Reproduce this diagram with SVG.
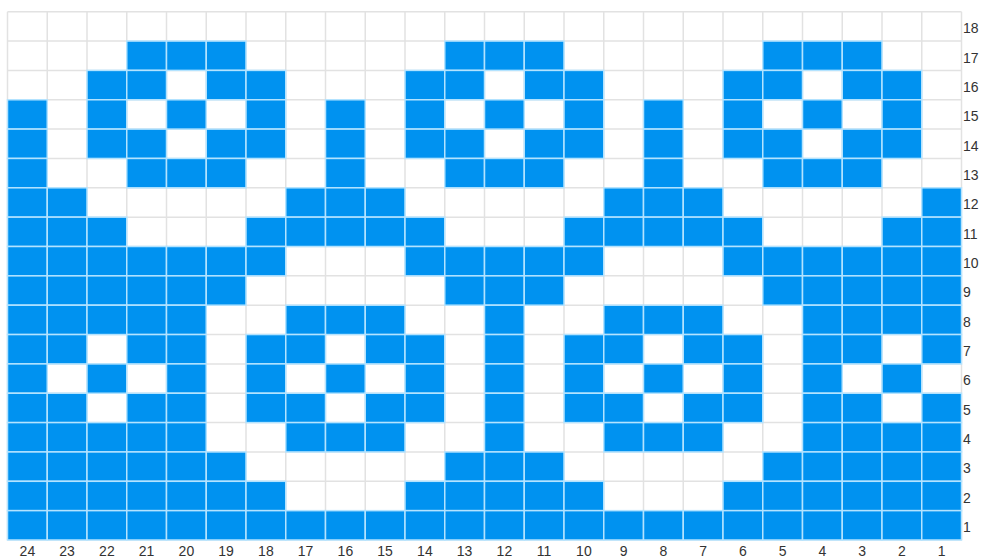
<svg xmlns="http://www.w3.org/2000/svg" xmlns:xlink="http://www.w3.org/1999/xlink" width="985" height="557" viewBox="0 0 985 557">
<style>
.grid{stroke:#e2e2e2;stroke-width:1.5;fill:none}
.b{fill:#0092f0;stroke:#b3e3ff;stroke-width:1.5}
.lbl{font-family:"Liberation Sans",Arial,sans-serif;font-size:14px;fill:#333}
.col{text-anchor:middle}
</style>
<defs>
<rect id="c" class="b" width="39.75" height="29.35"/>
<g id="ev"><use href="#c" x="7.5"/><use href="#c" x="87"/><use href="#c" x="166.5"/><use href="#c" x="246"/><use href="#c" x="325.5"/><use href="#c" x="405"/><use href="#c" x="484.5"/><use href="#c" x="564"/><use href="#c" x="643.5"/><use href="#c" x="723"/><use href="#c" x="802.5"/><use href="#c" x="882"/></g>
<g id="rA"><use href="#c" x="7.5"/><use href="#c" x="47.25"/><use href="#c" x="87"/><use href="#c" x="126.75"/><use href="#c" x="166.5"/><use href="#c" x="206.25"/><use href="#c" x="246"/><use href="#c" x="405"/><use href="#c" x="444.75"/><use href="#c" x="484.5"/><use href="#c" x="524.25"/><use href="#c" x="564"/><use href="#c" x="723"/><use href="#c" x="762.75"/><use href="#c" x="802.5"/><use href="#c" x="842.25"/><use href="#c" x="882"/><use href="#c" x="921.75"/></g>
<g id="rB"><use href="#c" x="7.5"/><use href="#c" x="47.25"/><use href="#c" x="87"/><use href="#c" x="126.75"/><use href="#c" x="166.5"/><use href="#c" x="206.25"/><use href="#c" x="444.75"/><use href="#c" x="484.5"/><use href="#c" x="524.25"/><use href="#c" x="762.75"/><use href="#c" x="802.5"/><use href="#c" x="842.25"/><use href="#c" x="882"/><use href="#c" x="921.75"/></g>
<g id="rC"><use href="#c" x="7.5"/><use href="#c" x="47.25"/><use href="#c" x="87"/><use href="#c" x="126.75"/><use href="#c" x="166.5"/><use href="#c" x="285.75"/><use href="#c" x="325.5"/><use href="#c" x="365.25"/><use href="#c" x="484.5"/><use href="#c" x="603.75"/><use href="#c" x="643.5"/><use href="#c" x="683.25"/><use href="#c" x="802.5"/><use href="#c" x="842.25"/><use href="#c" x="882"/><use href="#c" x="921.75"/></g>
<g id="rD"><use href="#c" x="7.5"/><use href="#c" x="47.25"/><use href="#c" x="126.75"/><use href="#c" x="166.5"/><use href="#c" x="246"/><use href="#c" x="285.75"/><use href="#c" x="365.25"/><use href="#c" x="405"/><use href="#c" x="484.5"/><use href="#c" x="564"/><use href="#c" x="603.75"/><use href="#c" x="683.25"/><use href="#c" x="723"/><use href="#c" x="802.5"/><use href="#c" x="842.25"/><use href="#c" x="921.75"/></g>
</defs>
<rect width="985" height="557" fill="#fff"/>
<path class="grid" d="M7.5 11.7V540M47.25 11.7V540M87 11.7V540M126.75 11.7V540M166.5 11.7V540M206.25 11.7V540M246 11.7V540M285.75 11.7V540M325.5 11.7V540M365.25 11.7V540M405 11.7V540M444.75 11.7V540M484.5 11.7V540M524.25 11.7V540M564 11.7V540M603.75 11.7V540M643.5 11.7V540M683.25 11.7V540M723 11.7V540M762.75 11.7V540M802.5 11.7V540M842.25 11.7V540M882 11.7V540M921.75 11.7V540M961.5 11.7V540M7.5 11.7H961.5M7.5 41.05H961.5M7.5 70.4H961.5M7.5 99.75H961.5M7.5 129.1H961.5M7.5 158.45H961.5M7.5 187.8H961.5M7.5 217.15H961.5M7.5 246.5H961.5M7.5 275.85H961.5M7.5 305.2H961.5M7.5 334.55H961.5M7.5 363.9H961.5M7.5 393.25H961.5M7.5 422.6H961.5M7.5 451.95H961.5M7.5 481.3H961.5M7.5 510.65H961.5M7.5 540H961.5"/>
<g id="cells">
<g transform="translate(0,41.05)"><use href="#c" x="126.75"/><use href="#c" x="166.5"/><use href="#c" x="206.25"/><use href="#c" x="444.75"/><use href="#c" x="484.5"/><use href="#c" x="524.25"/><use href="#c" x="762.75"/><use href="#c" x="802.5"/><use href="#c" x="842.25"/></g>
<g transform="translate(0,70.4)"><use href="#c" x="87"/><use href="#c" x="126.75"/><use href="#c" x="206.25"/><use href="#c" x="246"/><use href="#c" x="405"/><use href="#c" x="444.75"/><use href="#c" x="524.25"/><use href="#c" x="564"/><use href="#c" x="723"/><use href="#c" x="762.75"/><use href="#c" x="842.25"/><use href="#c" x="882"/></g>
<use href="#ev" y="99.75"/>
<g transform="translate(0,129.1)"><use href="#c" x="7.5"/><use href="#c" x="87"/><use href="#c" x="126.75"/><use href="#c" x="206.25"/><use href="#c" x="246"/><use href="#c" x="325.5"/><use href="#c" x="405"/><use href="#c" x="444.75"/><use href="#c" x="524.25"/><use href="#c" x="564"/><use href="#c" x="643.5"/><use href="#c" x="723"/><use href="#c" x="762.75"/><use href="#c" x="842.25"/><use href="#c" x="882"/></g>
<g transform="translate(0,158.45)"><use href="#c" x="7.5"/><use href="#c" x="126.75"/><use href="#c" x="166.5"/><use href="#c" x="206.25"/><use href="#c" x="325.5"/><use href="#c" x="444.75"/><use href="#c" x="484.5"/><use href="#c" x="524.25"/><use href="#c" x="643.5"/><use href="#c" x="762.75"/><use href="#c" x="802.5"/><use href="#c" x="842.25"/></g>
<g transform="translate(0,187.8)"><use href="#c" x="7.5"/><use href="#c" x="47.25"/><use href="#c" x="285.75"/><use href="#c" x="325.5"/><use href="#c" x="365.25"/><use href="#c" x="603.75"/><use href="#c" x="643.5"/><use href="#c" x="683.25"/><use href="#c" x="921.75"/></g>
<g transform="translate(0,217.15)"><use href="#c" x="7.5"/><use href="#c" x="47.25"/><use href="#c" x="87"/><use href="#c" x="246"/><use href="#c" x="285.75"/><use href="#c" x="325.5"/><use href="#c" x="365.25"/><use href="#c" x="405"/><use href="#c" x="564"/><use href="#c" x="603.75"/><use href="#c" x="643.5"/><use href="#c" x="683.25"/><use href="#c" x="723"/><use href="#c" x="882"/><use href="#c" x="921.75"/></g>
<use href="#rA" y="246.5"/>
<use href="#rB" y="275.85"/>
<use href="#rC" y="305.2"/>
<use href="#rD" y="334.55"/>
<use href="#ev" y="363.9"/>
<use href="#rD" y="393.25"/>
<use href="#rC" y="422.6"/>
<use href="#rB" y="451.95"/>
<use href="#rA" y="481.3"/>
<g transform="translate(0,510.65)"><use href="#c" x="7.5"/><use href="#c" x="47.25"/><use href="#c" x="87"/><use href="#c" x="126.75"/><use href="#c" x="166.5"/><use href="#c" x="206.25"/><use href="#c" x="246"/><use href="#c" x="285.75"/><use href="#c" x="325.5"/><use href="#c" x="365.25"/><use href="#c" x="405"/><use href="#c" x="444.75"/><use href="#c" x="484.5"/><use href="#c" x="524.25"/><use href="#c" x="564"/><use href="#c" x="603.75"/><use href="#c" x="643.5"/><use href="#c" x="683.25"/><use href="#c" x="723"/><use href="#c" x="762.75"/><use href="#c" x="802.5"/><use href="#c" x="842.25"/><use href="#c" x="882"/><use href="#c" x="921.75"/></g>
</g>
<g id="row-labels" class="lbl">
<text x="963" y="33.2">18</text><text x="963" y="62.5">17</text><text x="963" y="91.9">16</text><text x="963" y="121.2">15</text><text x="963" y="150.6">14</text><text x="963" y="179.9">13</text><text x="963" y="209.3">12</text><text x="963" y="238.6">11</text><text x="963" y="268">10</text><text x="963" y="297.3">9</text><text x="963" y="326.7">8</text><text x="963" y="356">7</text><text x="963" y="385.4">6</text><text x="963" y="414.7">5</text><text x="963" y="444.1">4</text><text x="963" y="473.4">3</text><text x="963" y="502.8">2</text><text x="963" y="532.1">1</text>
</g>
<g id="col-labels" class="lbl col">
<text x="27.4" y="555.5">24</text><text x="67.1" y="555.5">23</text><text x="106.9" y="555.5">22</text><text x="146.6" y="555.5">21</text><text x="186.4" y="555.5">20</text><text x="226.1" y="555.5">19</text><text x="265.9" y="555.5">18</text><text x="305.6" y="555.5">17</text><text x="345.4" y="555.5">16</text><text x="385.1" y="555.5">15</text><text x="424.9" y="555.5">14</text><text x="464.6" y="555.5">13</text><text x="504.4" y="555.5">12</text><text x="544.1" y="555.5">11</text><text x="583.9" y="555.5">10</text><text x="623.6" y="555.5">9</text><text x="663.4" y="555.5">8</text><text x="703.1" y="555.5">7</text><text x="742.9" y="555.5">6</text><text x="782.6" y="555.5">5</text><text x="822.4" y="555.5">4</text><text x="862.1" y="555.5">3</text><text x="901.9" y="555.5">2</text><text x="941.6" y="555.5">1</text>
</g>
</svg>
